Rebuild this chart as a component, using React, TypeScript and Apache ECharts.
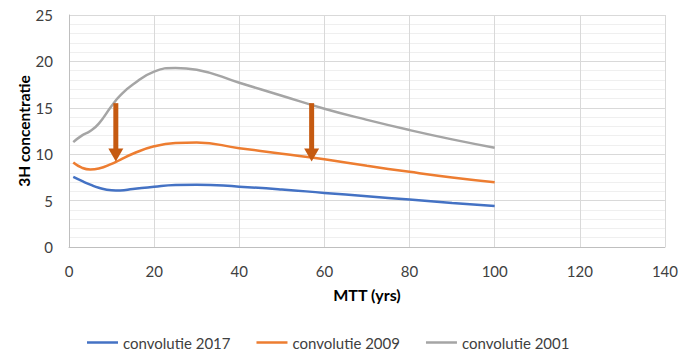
import React, { useEffect, useRef } from "react";
import * as echarts from "echarts";

// MTT (mean transit time, years)
const mtt = [1, 3, 5, 7, 10, 12, 15, 20, 25, 30, 40, 50, 60, 70, 80, 90, 100];

// Tritium concentration per convolution year
const conv2017 = [7.55, 7.12, 6.72, 6.38, 6.12, 6.1, 6.25, 6.5, 6.68, 6.72, 6.5, 6.2, 5.83, 5.47, 5.11, 4.75, 4.42];
const conv2009 = [9.1, 8.55, 8.35, 8.45, 8.95, 9.4, 10.05, 10.85, 11.2, 11.25, 10.65, 10.05, 9.45, 8.75, 8.1, 7.5, 6.98];
const conv2001 = [11.3, 12.0, 12.5, 13.3, 15.2, 16.3, 17.5, 18.9, 19.3, 19.1, 17.7, 16.3, 14.9, 13.7, 12.6, 11.6, 10.7];

const seriesNames = ["convolutie 2017", "convolutie 2009", "convolutie 2001"];
const seriesColors = ["#4472C4", "#ED7D31", "#A5A5A5"];

// Decline arrows: [MTT, from concentration, to concentration]
const arrows = [
  [11, 15.5, 9.2],
  [57, 15.5, 9.2],
];

const xTicks = [0, 20, 40, 60, 80, 100, 120, 140];
const yTicks = [0, 5, 10, 15, 20, 25];

const FONT = "Lato, 'Open Sans', sans-serif";

export default function App() {
  const ref = useRef<HTMLDivElement>(null);

  useEffect(() => {
    document.body.style.margin = "0";
    const chart = echarts.init(ref.current!, null, { renderer: "svg" });
    const lineData = [conv2017, conv2009, conv2001].map((vals) =>
      mtt.map((x, i) => [x, vals[i]])
    );

    chart.setOption({
      animation: false,
      backgroundColor: "#ffffff",
      textStyle: { fontFamily: FONT },
      grid: { left: 69, top: 15, right: 16, bottom: 106 },
      xAxis: {
        type: "value",
        min: xTicks[0],
        max: xTicks[xTicks.length - 1],
        interval: 20,
        name: "MTT (yrs)",
        nameLocation: "middle",
        nameGap: 39,
        nameMoveOverlap: false,
        nameTextStyle: { fontFamily: FONT, fontWeight: "bold", fontSize: 16, color: "#000" },
        axisLine: { show: true, lineStyle: { color: "#BFBFBF", width: 1 } },
        axisTick: { show: false },
        axisLabel: { margin: 16, fontFamily: FONT, fontSize: 15, color: "#404040" },
        splitLine: { show: true, lineStyle: { color: "#D9D9D9", width: 1 } },
      },
      yAxis: {
        type: "value",
        min: yTicks[0],
        max: yTicks[yTicks.length - 1],
        interval: 5,
        name: "3H concentratie",
        nameLocation: "middle",
        nameGap: 37,
        nameMoveOverlap: false,
        nameTextStyle: { fontFamily: FONT, fontWeight: "bold", fontSize: 15.5, color: "#000" },
        axisLine: { show: true, lineStyle: { color: "#BFBFBF", width: 1 } },
        axisTick: { show: false },
        axisLabel: { margin: 16, fontFamily: FONT, fontSize: 15, color: "#404040" },
        splitLine: { show: true, lineStyle: { color: "#D9D9D9", width: 1 } },
        minorTick: { show: false, splitNumber: 5 },
        minorSplitLine: { show: true, lineStyle: { color: "#EFEFEF", width: 1 } },
      },
      legend: {
        left: 87,
        top: 335,
        padding: 0,
        icon: "rect",
        itemWidth: 31,
        itemHeight: 2.5,
        itemGap: 26,
        textStyle: { fontFamily: FONT, fontSize: 15, color: "#404040" },
        data: seriesNames,
      },
      series: [
        ...lineData.map((d, i) => ({
          name: seriesNames[i],
          type: "line",
          data: d,
          smooth: 0.5,
          symbol: "none",
          lineStyle: { color: seriesColors[i], width: 2.5 },
          itemStyle: { color: seriesColors[i] },
          z: 3 - i,
        })),
        {
          type: "custom",
          name: "arrows",
          data: arrows,
          z: 10,
          renderItem: (params: any, api: any) => {
            const top = api.coord([api.value(0), api.value(1)]);
            const tip = api.coord([api.value(0), api.value(2)]);
            const headH = 13;
            const headW = 15;
            const shaftW = 5;
            const color = "#C55A11";
            return {
              type: "group",
              children: [
                {
                  type: "rect",
                  shape: {
                    x: top[0] - shaftW / 2,
                    y: top[1],
                    width: shaftW,
                    height: tip[1] - top[1] - headH + 1,
                  },
                  style: { fill: color },
                },
                {
                  type: "polygon",
                  shape: {
                    points: [
                      [tip[0] - headW / 2, tip[1] - headH],
                      [tip[0] + headW / 2, tip[1] - headH],
                      [tip[0], tip[1]],
                    ],
                  },
                  style: { fill: color },
                },
              ],
            };
          },
        },
      ],
    });
    return () => chart.dispose();
  }, []);

  return <div ref={ref} style={{ width: 681, height: 353 }} />;
}
